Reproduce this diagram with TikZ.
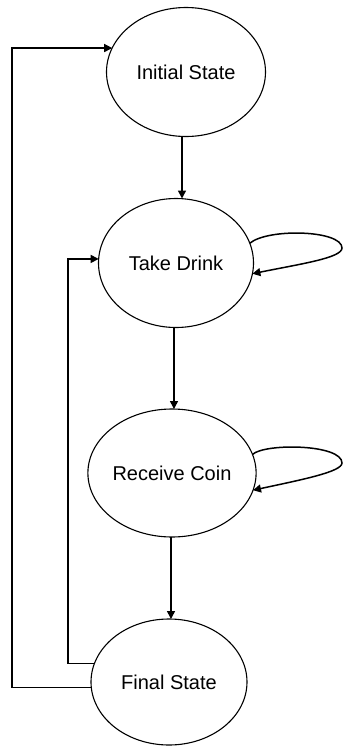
\documentclass[tikz,border=0pt]{standalone}
\usepackage{fontspec}
\setmainfont{Liberation Sans}
\usetikzlibrary{shapes.geometric,arrows.meta}
\begin{document}
\begin{tikzpicture}[x=1pt,y=-1pt,
  state/.style={ellipse,draw,line width=1.1pt,inner sep=0pt,outer sep=0pt,
    font=\fontsize{20}{24}\selectfont},
  arr/.style={line width=1.5pt,-{Triangle[length=8pt,width=8pt]}},
  wire/.style={line width=1.5pt}]
\useasboundingbox (0,0) rectangle (343,747);

% states
\node[state,minimum width=159pt,minimum height=129pt] (is) at (186,72)  {Initial State};
\node[state,minimum width=155pt,minimum height=129pt] (td) at (176,263) {Take Drink};
\node[state,minimum width=155pt,minimum height=128pt] (rc) at (172,473) {Receive Coin};
\node[state,minimum width=156pt,minimum height=126pt] (fs) at (169,682) {Final State};

% columns of the return paths
\coordinate (outer) at (12,0);
\coordinate (inner) at (68,0);

% forward transitions
\draw[arr] ([xshift=-4pt]is.south) -- ([xshift=-4pt]is.south |- td.north);
\draw[arr] ([xshift=-2pt]td.south) -- ([xshift=-2pt]td.south |- rc.north);
\draw[arr] ([xshift=-1pt]rc.south) -- ([xshift=-1pt]rc.south |- fs.north);

% self loops
\draw[arr] (td.15) .. controls (268,228) and (342,230) .. (342,248)
  .. controls (342,258) and (300,264) .. (td.-8);
\draw[arr] (rc.13) .. controls (265,443) and (342,444) .. (342,463)
  .. controls (342,472) and (300,480) .. (rc.-12);

% return paths
\draw[arr] (fs.184) -- (fs.184 -| outer) |- (is.162);
\draw[arr] (fs.166) -- (fs.166 -| inner) |- (td.177);
\end{tikzpicture}
\end{document}
